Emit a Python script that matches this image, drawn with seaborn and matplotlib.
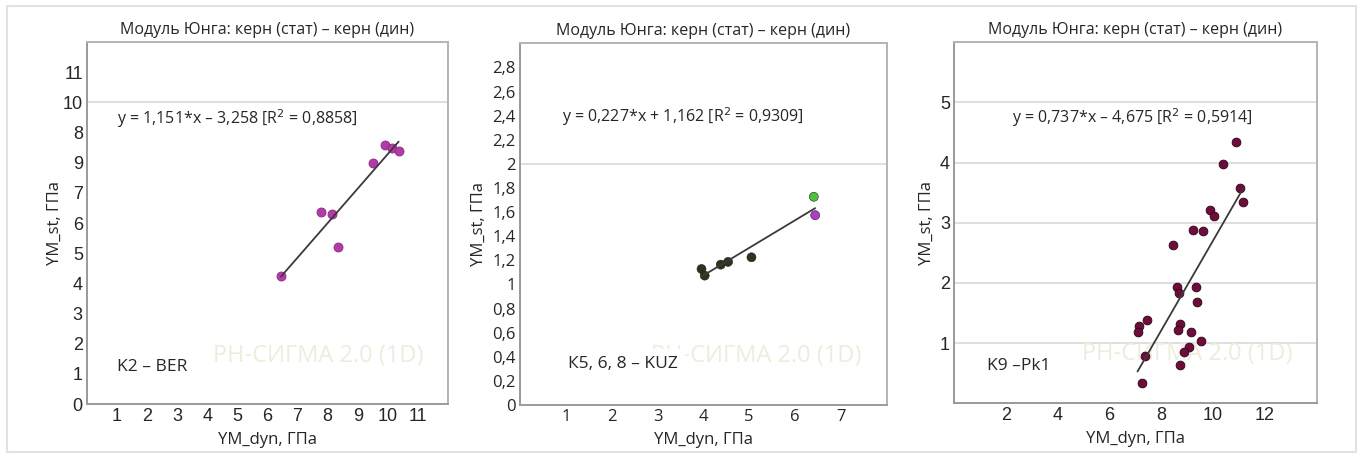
import seaborn as sns
import matplotlib.pyplot as plt
import matplotlib.patches as mpatches
import numpy as np
import pandas as pd

# K2 - BER
k2_x = [6.45, 7.78, 8.16, 8.35, 9.50, 9.90, 10.14, 10.36]
k2_y = [4.25, 6.38, 6.30, 5.19, 7.98, 8.60, 8.48, 8.40]

# K5, 6, 8 - KUZ
kuz_x = [3.96, 4.03, 4.38, 4.54, 5.05, 6.41, 6.44]
kuz_y = [1.128, 1.073, 1.164, 1.187, 1.225, 1.727, 1.574]
kuz_group = ['a', 'a', 'a', 'a', 'a', 'b', 'c']

# K9 - Pk1
k9_x = [10.89, 10.39, 11.04, 11.15, 9.86, 10.02, 9.21, 9.61, 8.46, 8.60,
        9.34, 8.69, 9.38, 7.45, 7.13, 7.08, 8.71, 8.64, 9.16, 9.53,
        9.06, 8.89, 7.37, 8.71, 7.25]
k9_y = [4.34, 3.97, 3.58, 3.34, 3.22, 3.11, 2.88, 2.86, 2.63, 1.94,
        1.94, 1.83, 1.68, 1.39, 1.29, 1.19, 1.31, 1.22, 1.19, 1.03,
        0.93, 0.85, 0.79, 0.63, 0.34]

title = 'Модуль Юнга: керн (стат) – керн (дин)'
xlabel = 'YM_dyn, ГПа'
ylabel = 'YM_st, ГПа'
watermark = 'РН-СИГМА 2.0 (1D)'

eq1 = 'y = 1,151*x – 3,258 [R$^{2}$ = 0,8858]'
eq2 = 'y = 0,227*x + 1,162 [R$^{2}$ = 0,9309]'
eq3 = 'y = 0,737*x – 4,675 [R$^{2}$ = 0,5914]'

# tick labels as printed on the original
k2_xticks = list(range(1, 12))
k2_yticks = list(range(0, 12))
k2_ylabels = ['0', '1', '2', '3', '4', '5', '6', '7', '9', '8', '10', '11']
kuz_xticks = list(range(1, 8))
kuz_yticks = [0, 0.2, 0.4, 0.6, 0.8, 1.0, 1.2, 1.4, 1.6, 1.8, 2.0, 2.2, 2.4, 2.6, 2.8]
kuz_ylabels = ['0', '0,2', '0,4', '0,6', '0,8', '1', '1,2', '1,4', '1,6', '1,8',
               '2', '2,2', '2,4', '2,6', '2,8']
k9_xticks = [2, 4, 6, 8, 10, 12]
k9_yticks = [1, 2, 3, 4, 5]

sns.set_style('white')
plt.rcParams['font.family'] = ['Open Sans', 'DejaVu Sans']

fig = plt.figure(figsize=(13.57, 4.54), dpi=100)
fig.patches.append(mpatches.Rectangle((0.005, 0.004), 0.994, 0.983, transform=fig.transFigure,
                                      fill=False, edgecolor='#e2e2e2', linewidth=1.5))

ax1 = fig.add_axes([0.0641, 0.110, 0.266, 0.7975])
ax2 = fig.add_axes([0.3832, 0.108, 0.2702, 0.7966])
ax3 = fig.add_axes([0.7032, 0.1117, 0.2671, 0.7951])

text_font = ['Open Sans', 'DejaVu Sans']
tick_font = ['Liberation Sans', 'DejaVu Sans']


def style_axes(ax, xlim, ylim, minor_x, minor_y, major_y, tick_family, tick_size, ypad):
    ax.set_xlim(*xlim)
    ax.set_ylim(*ylim)
    for name, s in ax.spines.items():
        s.set_color('#9a9a9a' if name in ('left', 'bottom') else '#b4b4b4')
        s.set_linewidth(1.4)
    ax.set_xticks(minor_x, minor=True)
    ax.set_yticks(minor_y, minor=True)
    ax.grid(which='minor', color='#f1f1f1', linewidth=0.9)
    for v in major_y:
        ax.axhline(v, color='#d9d9d9', linewidth=1.2, zorder=0.5)
    ax.tick_params(which='both', length=0, pad=3)
    for lab in ax.get_xticklabels() + ax.get_yticklabels():
        lab.set_family(tick_family)
        lab.set_fontsize(tick_size)
    ax.set_title(title, fontsize=11.5, family=text_font, pad=6)
    ax.set_xlabel(xlabel, fontsize=12, family=text_font, labelpad=5)
    ax.set_ylabel(ylabel, fontsize=12, family=text_font, labelpad=ypad)


def annotate(ax, eq, eq_xy, label, label_xy, wm_xy):
    ax.text(wm_xy[0], wm_xy[1], watermark, ha='right', va='center', fontsize=17,
            color='#eeeddd', family=text_font, zorder=1)
    ax.text(label_xy[0], label_xy[1], label, ha='left', va='center', fontsize=12.5,
            family=text_font, zorder=2,
            bbox=dict(boxstyle='square,pad=0.4', facecolor='white', edgecolor='none'))
    ax.text(eq_xy[0], eq_xy[1], eq, ha='left', va='center', fontsize=11.5,
            family=text_font, zorder=2)


# panel 1
df1 = pd.DataFrame({'x': k2_x, 'y': k2_y})
sns.scatterplot(data=df1, x='x', y='y', ax=ax1, color='#b43aa8', s=42,
                edgecolor='#8a2a80', linewidth=0.6, zorder=3)
sns.regplot(data=df1, x='x', y='y', ax=ax1, scatter=False, ci=None,
            line_kws=dict(color='#3a3a3a', linewidth=1.3, zorder=4))
ax1.set_xticks(k2_xticks)
ax1.set_yticks(k2_yticks)
ax1.set_yticklabels(k2_ylabels)
style_axes(ax1, (0, 12), (0, 12), np.arange(0, 13, 1), np.arange(0, 13, 1), [10],
           tick_font, 13, 0)
annotate(ax1, eq1, (1.0, 9.47), 'K2 – BER', (1.0, 1.23), (11.2, 1.6))

# panel 2
df2 = pd.DataFrame({'x': kuz_x, 'y': kuz_y, 'g': kuz_group})
sns.scatterplot(data=df2, x='x', y='y', hue='g', ax=ax2, s=42, legend=False,
                palette={'a': '#30321c', 'b': '#4cc43a', 'c': '#b03cc6'},
                edgecolor='#222222', linewidth=0.4, zorder=3)
sns.regplot(data=df2, x='x', y='y', ax=ax2, scatter=False, ci=None,
            line_kws=dict(color='#3a3a3a', linewidth=1.3, zorder=4))
ax2.set_xticks(kuz_xticks)
ax2.set_yticks(kuz_yticks)
ax2.set_yticklabels(kuz_ylabels)
style_axes(ax2, (0, 8), (0, 3), np.arange(0, 9, 1), np.arange(0, 3.01, 0.2), [2],
           text_font, 12, 4)
annotate(ax2, eq2, (0.92, 2.39), 'К5, 6, 8 – KUZ', (1.05, 0.34), (7.45, 0.41))

# panel 3
df3 = pd.DataFrame({'x': k9_x, 'y': k9_y})
sns.scatterplot(data=df3, x='x', y='y', ax=ax3, color='#6e0c3c', s=40,
                edgecolor='#2a0514', linewidth=0.6, zorder=3)
sns.regplot(data=df3, x='x', y='y', ax=ax3, scatter=False, ci=None,
            line_kws=dict(color='#3a3a3a', linewidth=1.3, zorder=4))
ax3.set_xticks(k9_xticks)
ax3.set_yticks(k9_yticks)
style_axes(ax3, (0, 14), (0, 6), np.arange(0, 15, 2), np.arange(0, 7, 1), [1, 2, 3, 4, 5],
           tick_font, 13, 4)
annotate(ax3, eq3, (2.25, 4.75), 'K9 –Pk1', (1.25, 0.62), (13.06, 0.82))

fig.savefig('out.png', dpi=100)
